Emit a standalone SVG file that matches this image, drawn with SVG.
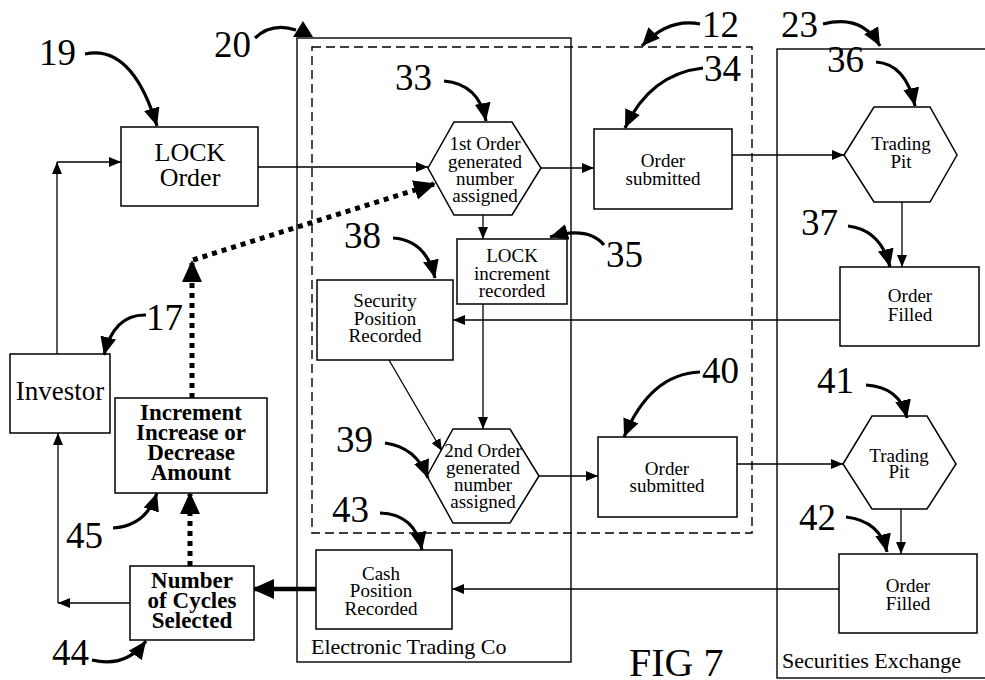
<svg xmlns="http://www.w3.org/2000/svg" width="985" height="680" viewBox="0 0 985 680">
<defs>
<style>
.bx{fill:#fff;stroke:#000;stroke-width:1.5}
.fr{fill:none;stroke:#000;stroke-width:1.4}
.ln{fill:none;stroke:#000;stroke-width:1.3;marker-end:url(#a)}
.cl{fill:none;stroke:#000;stroke-width:3.2;marker-end:url(#b)}
.dt{fill:none;stroke:#000;stroke-width:5;stroke-dasharray:5 5;marker-end:url(#c)}
text{font-family:"Liberation Serif","Times New Roman",serif;fill:#000}
.t{font-size:19px;text-anchor:middle}
.tb{font-size:23px;font-weight:bold;text-anchor:middle}
.n{font-size:37px}
</style>
<marker id="a" markerUnits="userSpaceOnUse" markerWidth="12" markerHeight="10" refX="12" refY="5" orient="auto"><path d="M0,0L12,5L0,10z"/></marker>
<marker id="b" markerUnits="userSpaceOnUse" markerWidth="18" markerHeight="16" refX="18" refY="8" orient="auto"><path d="M0,0L18,8L0,16z"/></marker>
<marker id="c" markerUnits="userSpaceOnUse" markerWidth="22" markerHeight="20" refX="20" refY="10" orient="auto"><path d="M0,0L22,10L0,20z"/></marker>
</defs>
<rect width="985" height="680" fill="#fff"/>

<g id="frames">
<rect class="fr" x="297" y="38" width="274" height="624"/>
<rect class="fr" x="312" y="47" width="440" height="486" stroke-dasharray="9 5"/>
<rect class="fr" x="777" y="49" width="230" height="629"/>
<text x="311" y="654" style="font-size:22px">Electronic Trading Co</text>
<text x="782" y="668" style="font-size:22px">Securities Exchange</text>
<text x="629" y="676" style="font-size:40px">FIG 7</text>
</g>

<g id="connectors">
<path class="ln" d="M57,354V162"/>
<path class="ln" d="M57,162H121"/>
<path class="ln" d="M258,167H428"/>
<path class="ln" d="M541,168H594"/>
<path class="ln" d="M732,155H844"/>
<path class="ln" d="M902,202V267"/>
<path class="ln" d="M840,320H453"/>
<path class="ln" d="M483,215V239"/>
<path class="ln" d="M483,304V429"/>
<path class="ln" d="M389,360L442,451"/>
<path class="ln" d="M539,476H598"/>
<path class="ln" d="M737,464H843"/>
<path class="ln" d="M901,487V554"/>
<path class="ln" d="M839,589H452"/>
<path d="M316,589H254" fill="none" stroke="#000" stroke-width="4.5" marker-end="url(#c)"/>
<path class="ln" d="M130,603H58"/>
<path class="ln" d="M58,603V433"/>
<path class="dt" d="M190,566V494"/>
<path class="dt" d="M192,398V262"/>
<path class="dt" d="M193,260L434,184"/>
</g>

<g id="n19"><rect class="bx" x="121" y="127" width="137" height="79"/><text x="190" y="161" style="font-size:26px;text-anchor:middle">LOCK</text><text x="190" y="186" style="font-size:26px;text-anchor:middle">Order</text></g>
<g id="n33"><polygon class="bx" points="428,168 454,122 512,122 541,168 512,215 454,215"/><text class="t" x="485" y="150">1st Order</text><text class="t" x="485" y="168">generated</text><text class="t" x="485" y="185">number</text><text class="t" x="485" y="202">assigned</text></g>
<g id="n34"><rect class="bx" x="594" y="129" width="138" height="80"/><text class="t" x="663" y="167">Order</text><text class="t" x="663" y="185">submitted</text></g>
<g id="n36"><polygon class="bx" points="844,155 874,107 930,107 957,155 930,202 874,202"/><text class="t" x="901" y="150">Trading</text><text class="t" x="901" y="168">Pit</text></g>
<g id="n37"><rect class="bx" x="840" y="267" width="139" height="79"/><text class="t" x="910" y="302">Order</text><text class="t" x="910" y="321">Filled</text></g>
<g id="n35"><rect class="bx" x="457" y="239" width="110" height="65"/><text class="t" x="512" y="262">LOCK</text><text class="t" x="512" y="280">increment</text><text class="t" x="512" y="297">recorded</text></g>
<g id="n38"><rect class="bx" x="317" y="280" width="136" height="80"/><text class="t" x="385" y="307">Security</text><text class="t" x="385" y="325">Position</text><text class="t" x="385" y="342">Recorded</text></g>
<g id="n39"><polygon class="bx" points="427,476 453,429 510,429 539,476 510,523 453,523"/><text class="t" x="483" y="457">2nd Order</text><text class="t" x="483" y="474">generated</text><text class="t" x="483" y="491">number</text><text class="t" x="483" y="508">assigned</text></g>
<g id="n40"><rect class="bx" x="598" y="437" width="139" height="80"/><text class="t" x="667" y="475">Order</text><text class="t" x="667" y="492">submitted</text></g>
<g id="n41"><polygon class="bx" points="843,464 872,416 927,416 956,464 927,509 872,509"/><text class="t" x="899" y="462">Trading</text><text class="t" x="899" y="478">Pit</text></g>
<g id="n42"><rect class="bx" x="839" y="554" width="138" height="79"/><text class="t" x="908" y="592">Order</text><text class="t" x="908" y="610">Filled</text></g>
<g id="n43"><rect class="bx" x="316" y="550" width="136" height="79"/><text class="t" x="381" y="580">Cash</text><text class="t" x="381" y="597">Position</text><text class="t" x="381" y="615">Recorded</text></g>
<g id="n17"><rect class="bx" x="10" y="354" width="100" height="79"/><text x="60" y="400" style="font-size:27px;text-anchor:middle">Investor</text></g>
<g id="n45"><rect class="bx" x="115" y="398" width="152" height="95"/><text class="tb" x="191" y="420">Increment</text><text class="tb" x="191" y="440">Increase or</text><text class="tb" x="191" y="460">Decrease</text><text class="tb" x="191" y="480">Amount</text></g>
<g id="n44"><rect class="bx" x="130" y="566" width="124" height="74"/><text class="tb" x="192" y="588">Number</text><text class="tb" x="192" y="608">of Cycles</text><text class="tb" x="192" y="628">Selected</text></g>

<g id="callouts">
<text class="n" x="39" y="65">19</text><path class="cl" d="M85,54Q132,44 157,126"/>
<text class="n" x="214" y="57">20</text><path d="M255,38Q272,22 296,30" fill="none" stroke="#000" stroke-width="3.2"/><polygon points="293,37 303,21 313,37"/>
<text class="n" x="702" y="37">12</text><path class="cl" d="M700,24Q668,18 642,46"/>
<text class="n" x="781" y="37">23</text><path class="cl" d="M823,24Q862,14 880,46"/>
<text class="n" x="827" y="72">36</text><path class="cl" d="M876,62Q906,64 915,106"/>
<text class="n" x="704" y="81">34</text><path class="cl" d="M703,68Q650,74 625,128"/>
<text class="n" x="395" y="90">33</text><path class="cl" d="M444,81Q479,84 486,121"/>
<text class="n" x="606" y="267">35</text><path class="cl" d="M604,245Q588,226 550,237"/>
<text class="n" x="344" y="248">38</text><path class="cl" d="M393,238Q426,240 435,278"/>
<text class="n" x="801" y="235">37</text><path class="cl" d="M848,226Q881,230 890,267"/>
<text class="n" x="146" y="330">17</text><path class="cl" d="M146,315Q114,314 104,355"/>
<text class="n" x="702" y="383">40</text><path class="cl" d="M700,372Q650,374 624,437"/>
<text class="n" x="817" y="393">41</text><path class="cl" d="M866,385Q900,387 907,418"/>
<text class="n" x="799" y="530">42</text><path class="cl" d="M846,517Q880,521 887,552"/>
<text class="n" x="336" y="452">39</text><path class="cl" d="M385,443Q416,447 428,478"/>
<text class="n" x="332" y="522">43</text><path class="cl" d="M380,513Q415,514 422,550"/>
<text class="n" x="66" y="548">45</text><path class="cl" d="M113,528Q146,526 157,493"/>
<text class="n" x="52" y="665">44</text><path class="cl" d="M92,660Q126,668 146,641"/>
</g>
</svg>
